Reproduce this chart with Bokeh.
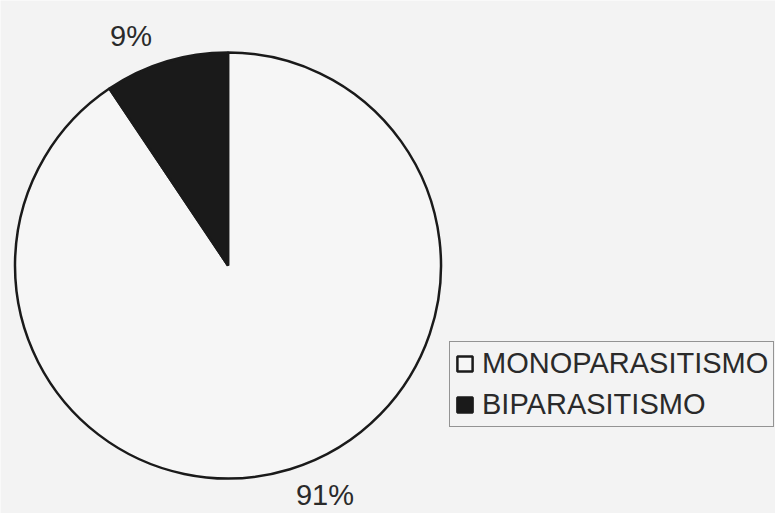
import math
from bokeh.plotting import figure
from bokeh.models import ColumnDataSource, Range1d, Legend, LegendItem
from bokeh.core.properties import value
from bokeh.embed import file_html
from bokeh.resources import INLINE

# ---- data ----
categories = ["MONOPARASITISMO", "BIPARASITISMO"]
values = [90.6, 9.4]
pct_labels = ["91%", "9%"]
colors = ["#f6f6f6", "#1a1a1a"]

# ---- layout ----
W, H = 775, 513
CX, CY, R = 227.5, 248.0, 213.0
LABEL_R = 249.0
LABEL_SHIFT = 6.0  # degrees

total = sum(values)
starts, ends, lx, ly = [], [], [], []
cum = 0.0
for v in values:
    a0 = cum / total * 360.0
    cum += v
    a1 = cum / total * 360.0
    # clockwise from 12 o'clock -> math angles
    starts.append(math.radians(90 - a1))
    ends.append(math.radians(90 - a0))
    mid = math.radians(90 - (a0 + a1) / 2 + LABEL_SHIFT)
    lx.append(CX + LABEL_R * math.cos(mid))
    ly.append(CY + LABEL_R * math.sin(mid))

src = ColumnDataSource(dict(
    x=[CX] * len(values), y=[CY] * len(values),
    start=starts, end=ends, color=colors, cat=categories,
))
lab_src = ColumnDataSource(dict(x=lx, y=ly, text=pct_labels))

p = figure(width=W, height=H, output_backend="svg", toolbar_location=None,
           x_range=Range1d(0, W), y_range=Range1d(0, H), min_border=0)
p.axis.visible = False
p.grid.visible = False
p.outline_line_color = None
p.background_fill_color = "#f3f3f3"
p.border_fill_color = "#f3f3f3"

r = p.wedge(x="x", y="y", radius=R, start_angle="start", end_angle="end",
            fill_color="color", line_color="#1a1a1a", line_width=2.5,
            source=src)

p.text(x="x", y="y", text="text", source=lab_src,
       text_font=value("Liberation Sans"), text_font_size="29px",
       text_color="#2a2a2a", text_align="center", text_baseline="middle")

legend = Legend(
    items=[LegendItem(label=c, renderers=[r], index=i) for i, c in enumerate(categories)],
    location=(449, 86),
    orientation="vertical",
    glyph_width=19, glyph_height=19,
    label_text_font="Liberation Sans", label_text_font_size="29px",
    label_text_color="#2a2a2a",
    label_standoff=8, spacing=8, padding=5, margin=0,
    border_line_color="#333333", border_line_width=1.2,
    background_fill_color="#f3f3f3", background_fill_alpha=1.0,
)
p.add_layout(legend, "center")

open("out.html", "w").write(file_html(p, INLINE))
